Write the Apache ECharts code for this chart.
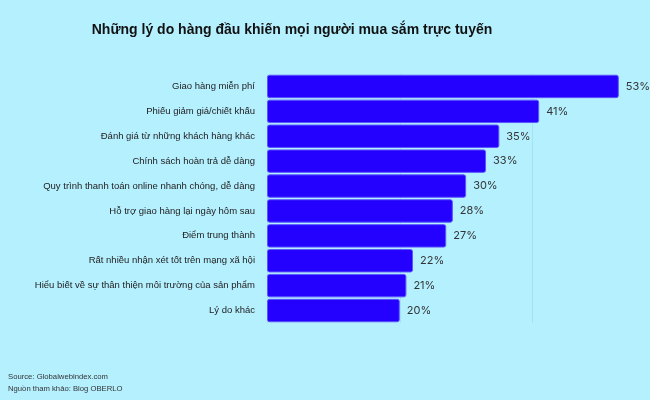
<!DOCTYPE html>
<html><head><meta charset="utf-8">
<script src="https://cdn.jsdelivr.net/npm/echarts@6/dist/echarts.min.js"></script>
<style>html,body{margin:0;padding:0;background:#B5F0FF}#c{width:650px;height:400px}</style>
</head><body><div id="c"></div>
<script>
const titleText = "Những lý do hàng đầu khiến mọi người mua sắm trực tuyến";
const categories = [
  "Giao hàng miễn phí",
  "Phiếu giảm giá/chiết khấu",
  "Đánh giá từ những khách hàng khác",
  "Chính sách hoàn trả dễ dàng",
  "Quy trình thanh toán online nhanh chóng, dễ dàng",
  "Hỗ trợ giao hàng lại ngày hôm sau",
  "Điểm trung thành",
  "Rất nhiều nhận xét tốt trên mạng xã hội",
  "Hiểu biết về sự thân thiện môi trường của sản phẩm",
  "Lý do khác"
];
const values = [53, 41, 35, 33, 30, 28, 27, 22, 21, 20];
const footnotes = ["Source: Globalwebindex.com", "Nguồn tham khảo: Blog OBERLO"];

const chart = echarts.init(document.getElementById('c'));
chart.setOption({
  backgroundColor: '#B5F0FF',
  animation: false,
  title: {
    text: titleText,
    left: 287, top: 18, textAlign: 'center',
    textStyle: {fontFamily: 'Liberation Sans', fontWeight: 'bold', fontSize: 14, color: '#111'}
  },
  graphic: [
    {type: 'text', left: 8, top: 373, style: {text: footnotes[0], font: '7.7px Liberation Sans', fill: '#333'}},
    {type: 'text', left: 8, top: 385, style: {text: footnotes[1], font: '7.7px Liberation Sans', fill: '#333'}}
  ],
  grid: {left: 267, top: 74, right: 0, bottom: 77},
  xAxis: {
    type: 'value', min: 0, max: 57.7, interval: 20,
    axisLabel: {show: false}, axisLine: {show: false}, axisTick: {show: false},
    splitLine: {lineStyle: {color: 'rgba(0,80,110,0.09)', width: 1}}
  },
  yAxis: {
    type: 'category', data: categories, inverse: true,
    axisLine: {show: false}, axisTick: {show: false},
    axisLabel: {margin: 12, fontSize: 9.5, fontFamily: 'Liberation Sans', color: '#222'}
  },
  series: [{
    type: 'bar', data: values, barCategoryGap: '6%',
    itemStyle: {color: '#2400FF', borderColor: '#5b55ff', borderWidth: 1, borderRadius: 2},
    label: {show: true, position: 'right', distance: 7, formatter: '{c}%', fontFamily: 'Inter', fontSize: 11, color: '#333'}
  }]
});
</script></body></html>
